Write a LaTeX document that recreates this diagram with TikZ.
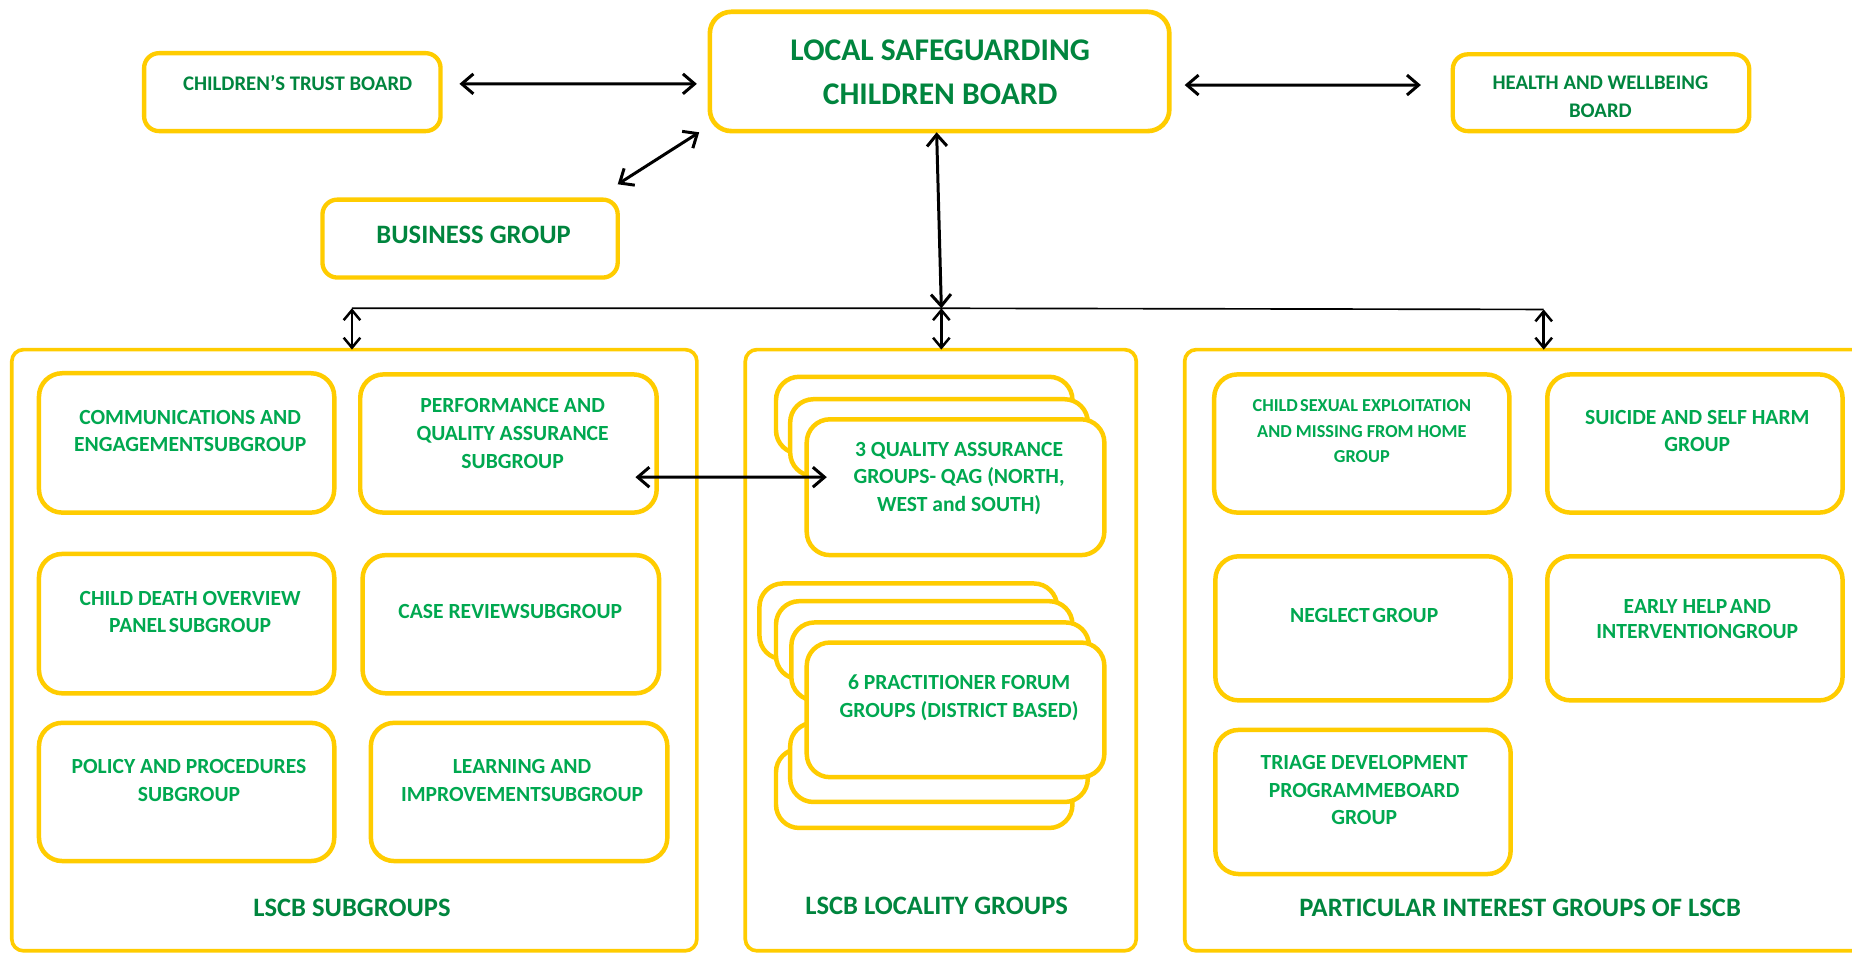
\documentclass[tikz,border=0pt]{standalone}
\usepackage{fontspec}
\setmainfont{Carlito}
\usetikzlibrary{arrows.meta}
\definecolor{dkg}{RGB}{0,133,62}
\definecolor{ltg}{RGB}{0,168,80}
\definecolor{ylw}{RGB}{255,204,0}
\newcommand\yb[6]{\node[#1, minimum width={(#4-#2)*0.025cm}, minimum height={(#5-#3)*0.025cm}] (#6) at ({(#2+#4)/2},{(#3+#5)/2}) {};}
\newcommand\yt[5]{\node[#1] (#2) at (#3,#4) {#5};}
\begin{document}
\begin{tikzpicture}[x=0.025cm,y=-0.025cm,
  basebox/.style={draw=ylw, fill=white, inner sep=0pt, outer sep=0pt},
  topbox/.style={basebox, line width=2.6pt, rounded corners=9pt},
  bigbox/.style={basebox, line width=2.8pt, rounded corners=13pt},
  inbox/.style={basebox, line width=2.7pt, rounded corners=14pt},
  cont/.style={basebox, line width=2.2pt, rounded corners=7pt},
  tx/.style={align=center, inner sep=0pt, text=ltg, font=\bfseries\fontsize{13}{16.6}\selectfont},
  txs/.style={tx, font=\bfseries\fontsize{11}{15.6}\selectfont},
  txd/.style={align=center, inner sep=0pt, text=dkg},
  ttl/.style={txd, font=\bfseries\fontsize{16}{19}\selectfont},
  tip/.style={Straight Barb[length=7pt,width=12pt]},
  arr/.style={line width=1.8pt, {Straight Barb[length=7pt,width=12pt]}-{Straight Barb[length=7pt,width=12pt]}},
  sarr/.style={line width=1.5pt, {Straight Barb[length=6pt,width=10pt]}-{Straight Barb[length=6pt,width=10pt]}}]
\useasboundingbox (0,0) rectangle (1568,808);
% top boxes
\yb{topbox}{122}{45}{373}{111}{ctb}
\yb{bigbox}{601}{10}{990}{111}{lscb}
\yb{topbox}{1230}{46}{1481}{111}{hwb}
\yb{topbox}{273}{169}{523}{235}{bus}
\yt{txd, font=\bfseries\fontsize{12.5}{17}\selectfont}{ctbt}{252}{70}{CHILDREN’S TRUST BOARD}
\yt{txd, font=\bfseries\fontsize{19}{26.3}\selectfont}{lscbt}{796}{61}{LOCAL SAFEGUARDING\\CHILDREN BOARD}
\yt{txd, font=\bfseries\fontsize{12.5}{17}\selectfont}{hwbt}{1355}{82}{HEALTH AND WELLBEING\\BOARD}
\yt{ttl}{bust}{401}{199}{BUSINESS GROUP}
% containers
\yb{cont}{10}{296}{590}{805}{subs}
\yb{cont}{631}{296}{962}{805}{loc}
\yb{cont}{1003}{296}{1590}{805}{pig}
% subgroups
\yb{inbox}{33}{316}{283}{434}{comm}
\yb{inbox}{305}{317}{556}{434}{perf}
\yb{inbox}{33}{469}{283}{587}{cdop}
\yb{inbox}{307}{470}{558}{587}{case}
\yb{inbox}{33}{612}{283}{729}{pol}
\yb{inbox}{314}{612}{565}{729}{learn}
\yt{tx}{commt}{161}{365}{COMMUNICATIONS AND\\ENGAGEMENTSUBGROUP}
\yt{tx}{perft}{434}{367}{PERFORMANCE AND\\QUALITY ASSURANCE\\SUBGROUP}
\yt{tx}{cdopt}{161}{518}{CHILD DEATH OVERVIEW\\PANEL\hspace{0.12em}SUBGROUP}
\yt{tx}{caset}{432}{518}{CASE REVIEWSUBGROUP}
\yt{tx}{polt}{160}{661}{POLICY AND PROCEDURES\\SUBGROUP}
\yt{tx}{learnt}{442}{661}{LEARNING AND\\IMPROVEMENTSUBGROUP}
\yt{ttl}{subst}{298}{769}{LSCB SUBGROUPS}
% locality: QAG stack
\yb{inbox}{657}{319}{908}{384}{qa}
\yb{inbox}{669}{338}{921}{403}{qb}
\yb{inbox}{683}{355}{935}{470}{qag}
\yt{tx}{qagt}{812}{405}{3 QUALITY ASSURANCE\\GROUPS- QAG (NORTH,\\WEST and SOUTH)}
% locality: practitioner stack
\yb{inbox}{657}{634}{908}{701}{pf}
\yb{inbox}{669}{612}{921}{679}{pe}
\yb{inbox}{643}{494}{895}{558}{pa}
\yb{inbox}{657}{509}{908}{575}{pb}
\yb{inbox}{670}{527}{922}{593}{pc}
\yb{inbox}{683}{544}{935}{658}{prac}
\yt{tx}{pract}{812}{591}{6 PRACTITIONER FORUM\\GROUPS (DISTRICT BASED)}
\yt{ttl}{loct}{793}{767}{LSCB LOCALITY GROUPS}
% particular interest
\yb{inbox}{1028}{317}{1278}{434}{cse}
\yb{inbox}{1310}{317}{1560}{434}{sui}
\yb{inbox}{1029}{471}{1279}{593}{neg}
\yb{inbox}{1310}{471}{1560}{593}{early}
\yb{inbox}{1029}{618}{1279}{740}{tri}
\yt{txs}{cset}{1153}{365}{CHILD\hspace{0.12em}SEXUAL EXPLOITATION\\AND MISSING FROM HOME\\GROUP}
\yt{tx}{suit}{1437}{365}{SUICIDE AND SELF HARM\\GROUP}
\yt{tx}{negt}{1155}{521}{NEGLECT\hspace{0.12em}GROUP}
\yt{tx, font=\bfseries\fontsize{13}{15.4}\selectfont}{earlyt}{1437}{524}{EARLY HELP\hspace{0.12em}AND\\INTERVENTIONGROUP}
\yt{tx}{trit}{1155}{669}{TRIAGE DEVELOPMENT\\PROGRAMMEBOARD\\GROUP}
\yt{ttl}{pigt}{1287}{769}{PARTICULAR INTEREST GROUPS OF LSCB}
% connectors
\draw[arr] ([shift={(16,-7)}]ctb.east) -- ([shift={(-11,10.5)}]lscb.west);
\draw[arr] ([shift={(13,11.5)}]lscb.east) -- ([shift={(-27,-6.5)}]hwb.west);
\draw[arr] ([shift={(0,-13)}]bus.north east) -- ([shift={(-9,1)}]lscb.south west);
\coordinate (hub) at (797,261);
\coordinate (hl) at (298,261);
\coordinate (hr) at (1307,262);
\draw[arr] ([shift={(-2.5,1)}]lscb.south) -- (hub);
\draw[line width=1pt] (hl) -- (hub) -- (hr);
\draw[sarr] (hl) -- (hl |- subs.north);
\draw[sarr] (hub) -- (hub |- loc.north);
\draw[sarr] (hr) -- (hr |- pig.north);
\draw[arr] ([shift={(-18,28.5)}]perf.east) -- ([shift={(17,-8.5)}]qag.west);
\end{tikzpicture}
\end{document}
